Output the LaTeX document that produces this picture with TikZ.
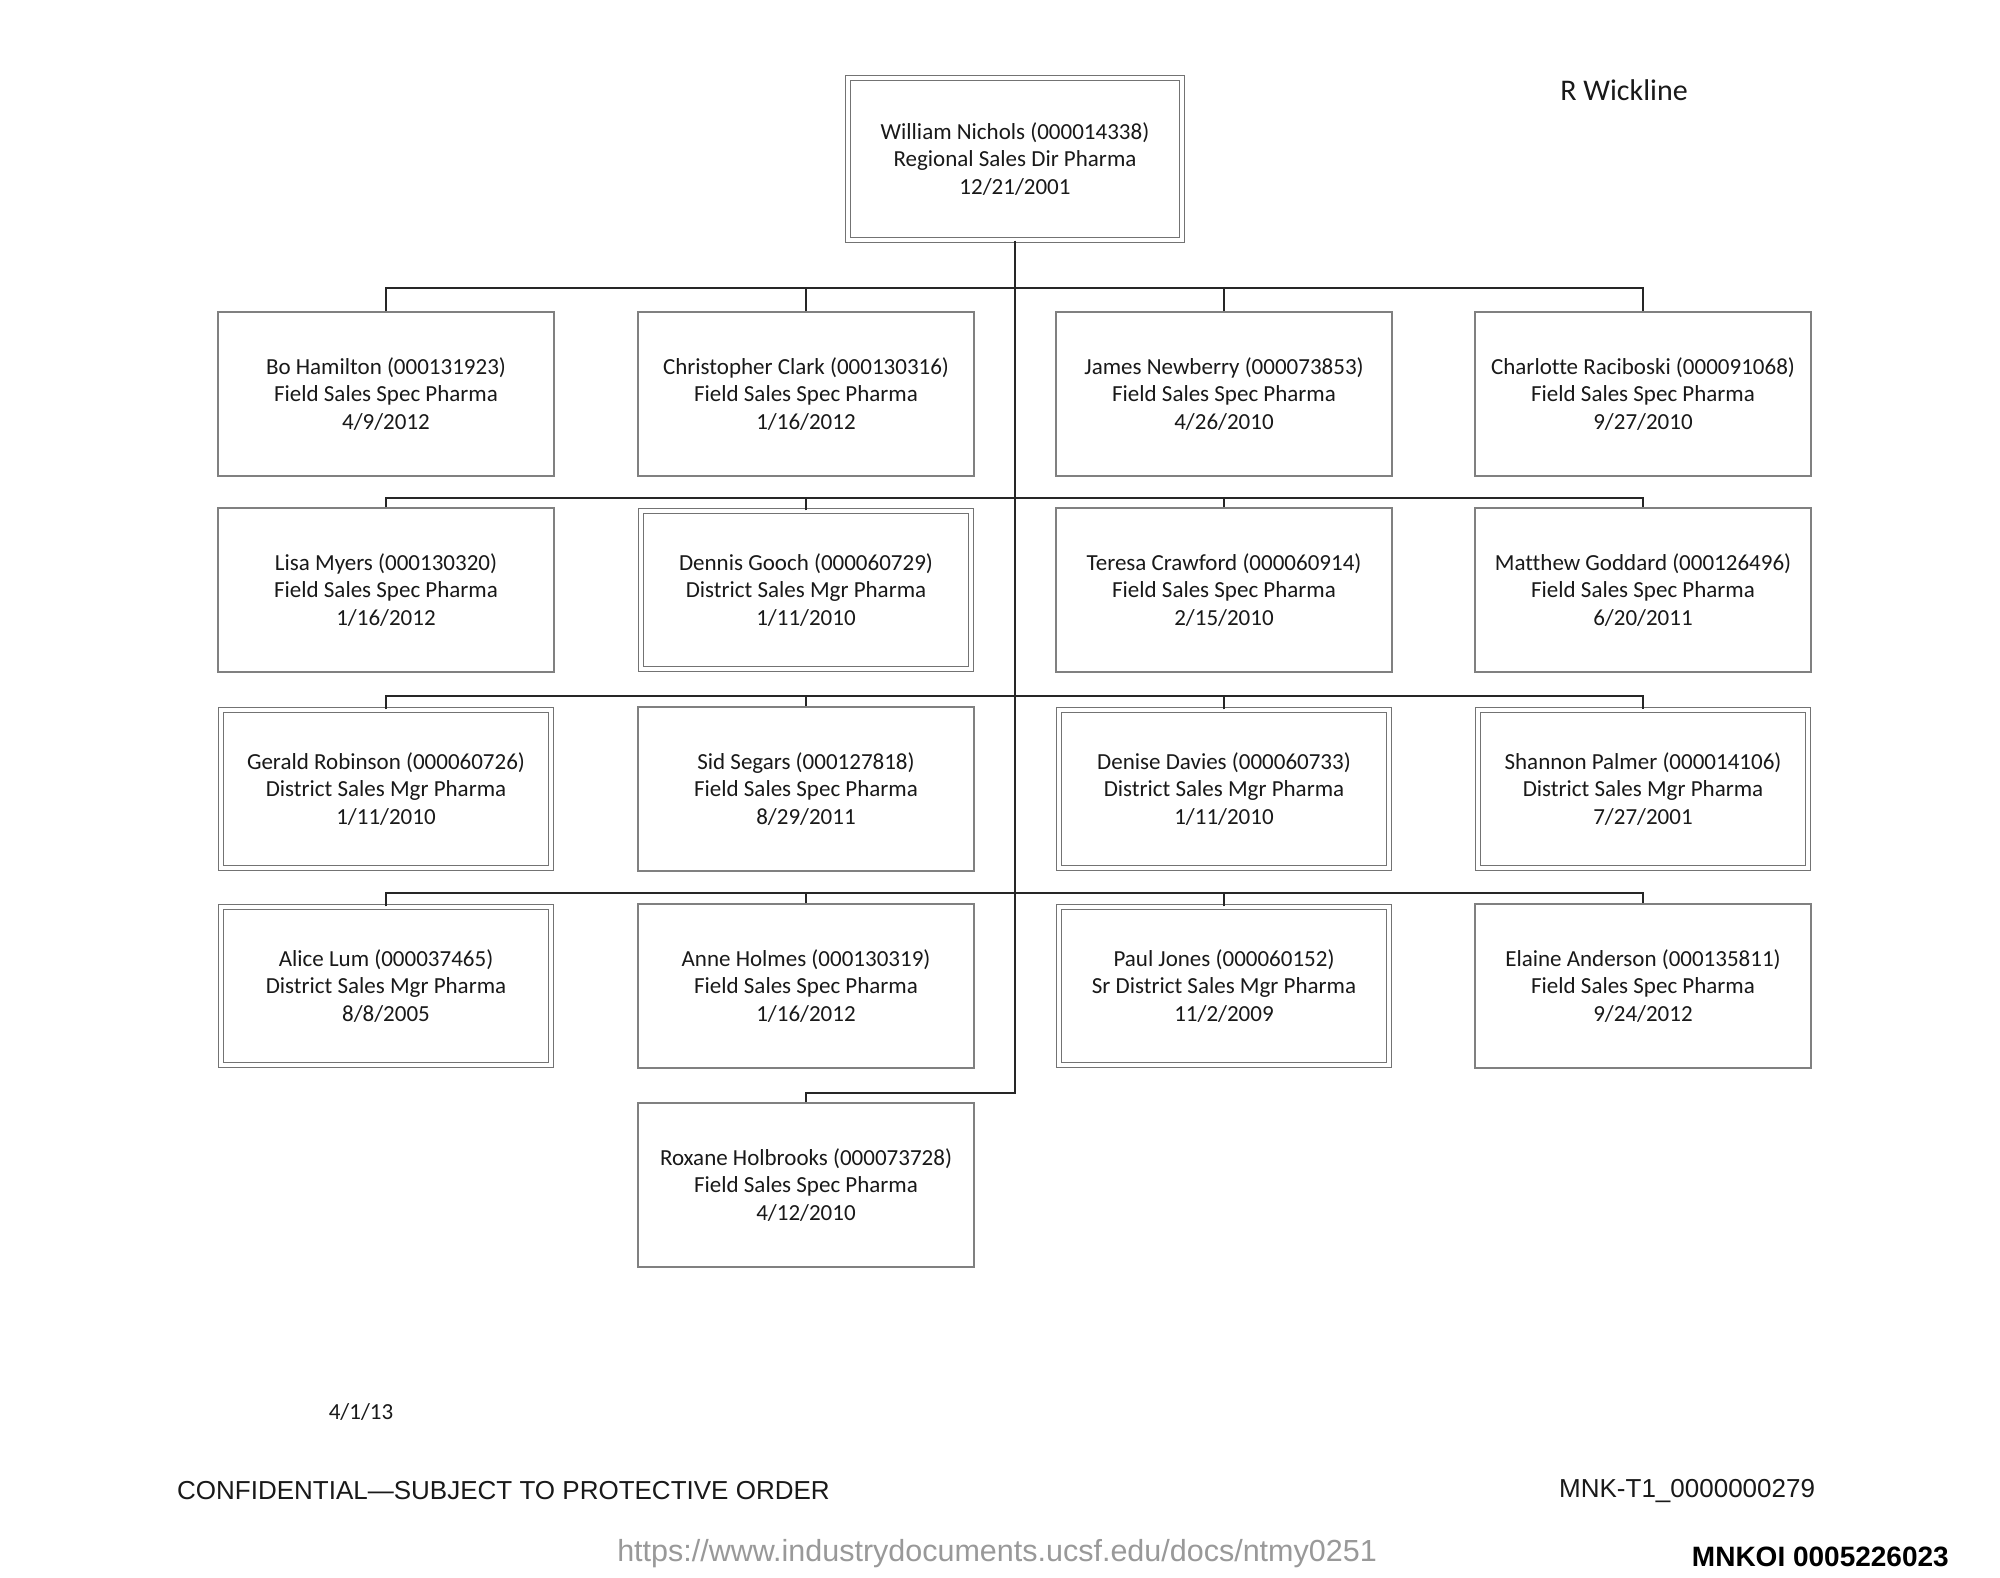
\documentclass[tikz,border=0pt]{standalone}
\usepackage{fontspec}
\setmainfont{Carlito}
\newfontfamily\cardfont[Ligatures=CommonOff]{Carlito}
\newfontfamily\arialfont{Liberation Sans}
\begin{document}
\begin{tikzpicture}[x=1pt,y=-1pt,
  card/.style={draw=black!50, line width=1.5pt, minimum width=336pt, minimum height=164pt,
    inner sep=0pt, align=center, text=black!90, font=\cardfont\fontsize{23}{27.5}\selectfont},
  dblcard/.style={card, draw=black!55, line width=1.1pt, double=white, double distance=4pt,
    minimum width=330pt, minimum height=158pt},
  link/.style={draw=black!85, line width=2.3pt},
  foot/.style={font=\arialfont\fontsize{26}{30}\selectfont, text=black!90, inner sep=0pt}
]
\useasboundingbox (0,0) rectangle (2000,1577);
\fill[white] (0,0) rectangle (2000,1577);

% top
\node[dblcard, minimum width=334pt, minimum height=162pt] (top) at (1015,159)
  {William Nichols (000014338)\\Regional Sales Dir Pharma\\12/21/2001};

% row 1
\node[card] (r1c1) at (386,394) {Bo Hamilton (000131923)\\Field Sales Spec Pharma\\4/9/2012};
\node[card] (r1c2) at (806,394) {Christopher Clark (000130316)\\Field Sales Spec Pharma\\1/16/2012};
\node[card] (r1c3) at (1224,394) {James Newberry (000073853)\\Field Sales Spec Pharma\\4/26/2010};
\node[card] (r1c4) at (1643,394) {Charlotte Raciboski (000091068)\\Field Sales Spec Pharma\\9/27/2010};

% row 2
\node[card] (r2c1) at (386,590) {Lisa Myers (000130320)\\Field Sales Spec Pharma\\1/16/2012};
\node[dblcard] (r2c2) at (806,590) {Dennis Gooch (000060729)\\District Sales Mgr Pharma\\1/11/2010};
\node[card] (r2c3) at (1224,590) {Teresa Crawford (000060914)\\Field Sales Spec Pharma\\2/15/2010};
\node[card] (r2c4) at (1643,590) {Matthew Goddard (000126496)\\Field Sales Spec Pharma\\6/20/2011};

% row 3
\node[dblcard] (r3c1) at (386,789) {Gerald Robinson (000060726)\\District Sales Mgr Pharma\\1/11/2010};
\node[card] (r3c2) at (806,789) {Sid Segars (000127818)\\Field Sales Spec Pharma\\8/29/2011};
\node[dblcard] (r3c3) at (1224,789) {Denise Davies (000060733)\\District Sales Mgr Pharma\\1/11/2010};
\node[dblcard] (r3c4) at (1643,789) {Shannon Palmer (000014106)\\District Sales Mgr Pharma\\7/27/2001};

% row 4
\node[dblcard] (r4c1) at (386,986) {Alice Lum (000037465)\\District Sales Mgr Pharma\\8/8/2005};
\node[card] (r4c2) at (806,986) {Anne Holmes (000130319)\\Field Sales Spec Pharma\\1/16/2012};
\node[dblcard] (r4c3) at (1224,986) {Paul Jones (000060152)\\Sr District Sales Mgr Pharma\\11/2/2009};
\node[card] (r4c4) at (1643,986) {Elaine Anderson (000135811)\\Field Sales Spec Pharma\\9/24/2012};

% row 5
\node[card] (r5c2) at (806,1185) {Roxane Holbrooks (000073728)\\Field Sales Spec Pharma\\4/12/2010};

% bus coordinates
\coordinate (bus1) at (1015,288);
\coordinate (bus2) at (1015,498);
\coordinate (bus3) at (1015,696);
\coordinate (bus4) at (1015,893);
\coordinate (bus5) at (1015,1093);

% trunk and row 5 link
\draw[link] (top.south) -- (top.south |- bus5) -- (r5c2.north |- bus5) -- (r5c2.north);

% buses
\foreach \r in {1,2,3,4}{
  \draw[link] (r\r c1.north) -- (r\r c1.north |- bus\r) -- (r\r c4.north |- bus\r) -- (r\r c4.north);
  \draw[link] (r\r c2.north) -- (r\r c2.north |- bus\r);
  \draw[link] (r\r c3.north) -- (r\r c3.north |- bus\r);
}

% side texts
\node[font=\cardfont\fontsize{30}{34}\selectfont, text=black!90, inner sep=0pt] (author) at (1624,90) {R Wickline};
\node[font=\cardfont\fontsize{23}{27}\selectfont, text=black!90, inner sep=0pt] (date) at (361,1412) {4/1/13};
\node[foot, anchor=west] (conf) at (177,1491) {CONFIDENTIAL—SUBJECT TO PROTECTIVE ORDER};
\node[foot, anchor=west] (mnk) at (1559,1491) {MNK-T1\_0000000279};
\node[font=\arialfont\fontsize{30.5}{34}\selectfont, text=black!40, inner sep=0pt] (url) at (997,1554) {https://www.industrydocuments.ucsf.edu/docs/ntmy0251};
\node[font=\arialfont\bfseries\fontsize{28}{32}\selectfont, text=black, inner sep=0pt, anchor=east] (bates) at (1949,1557) {MNKOI 0005226023};
\end{tikzpicture}
\end{document}
